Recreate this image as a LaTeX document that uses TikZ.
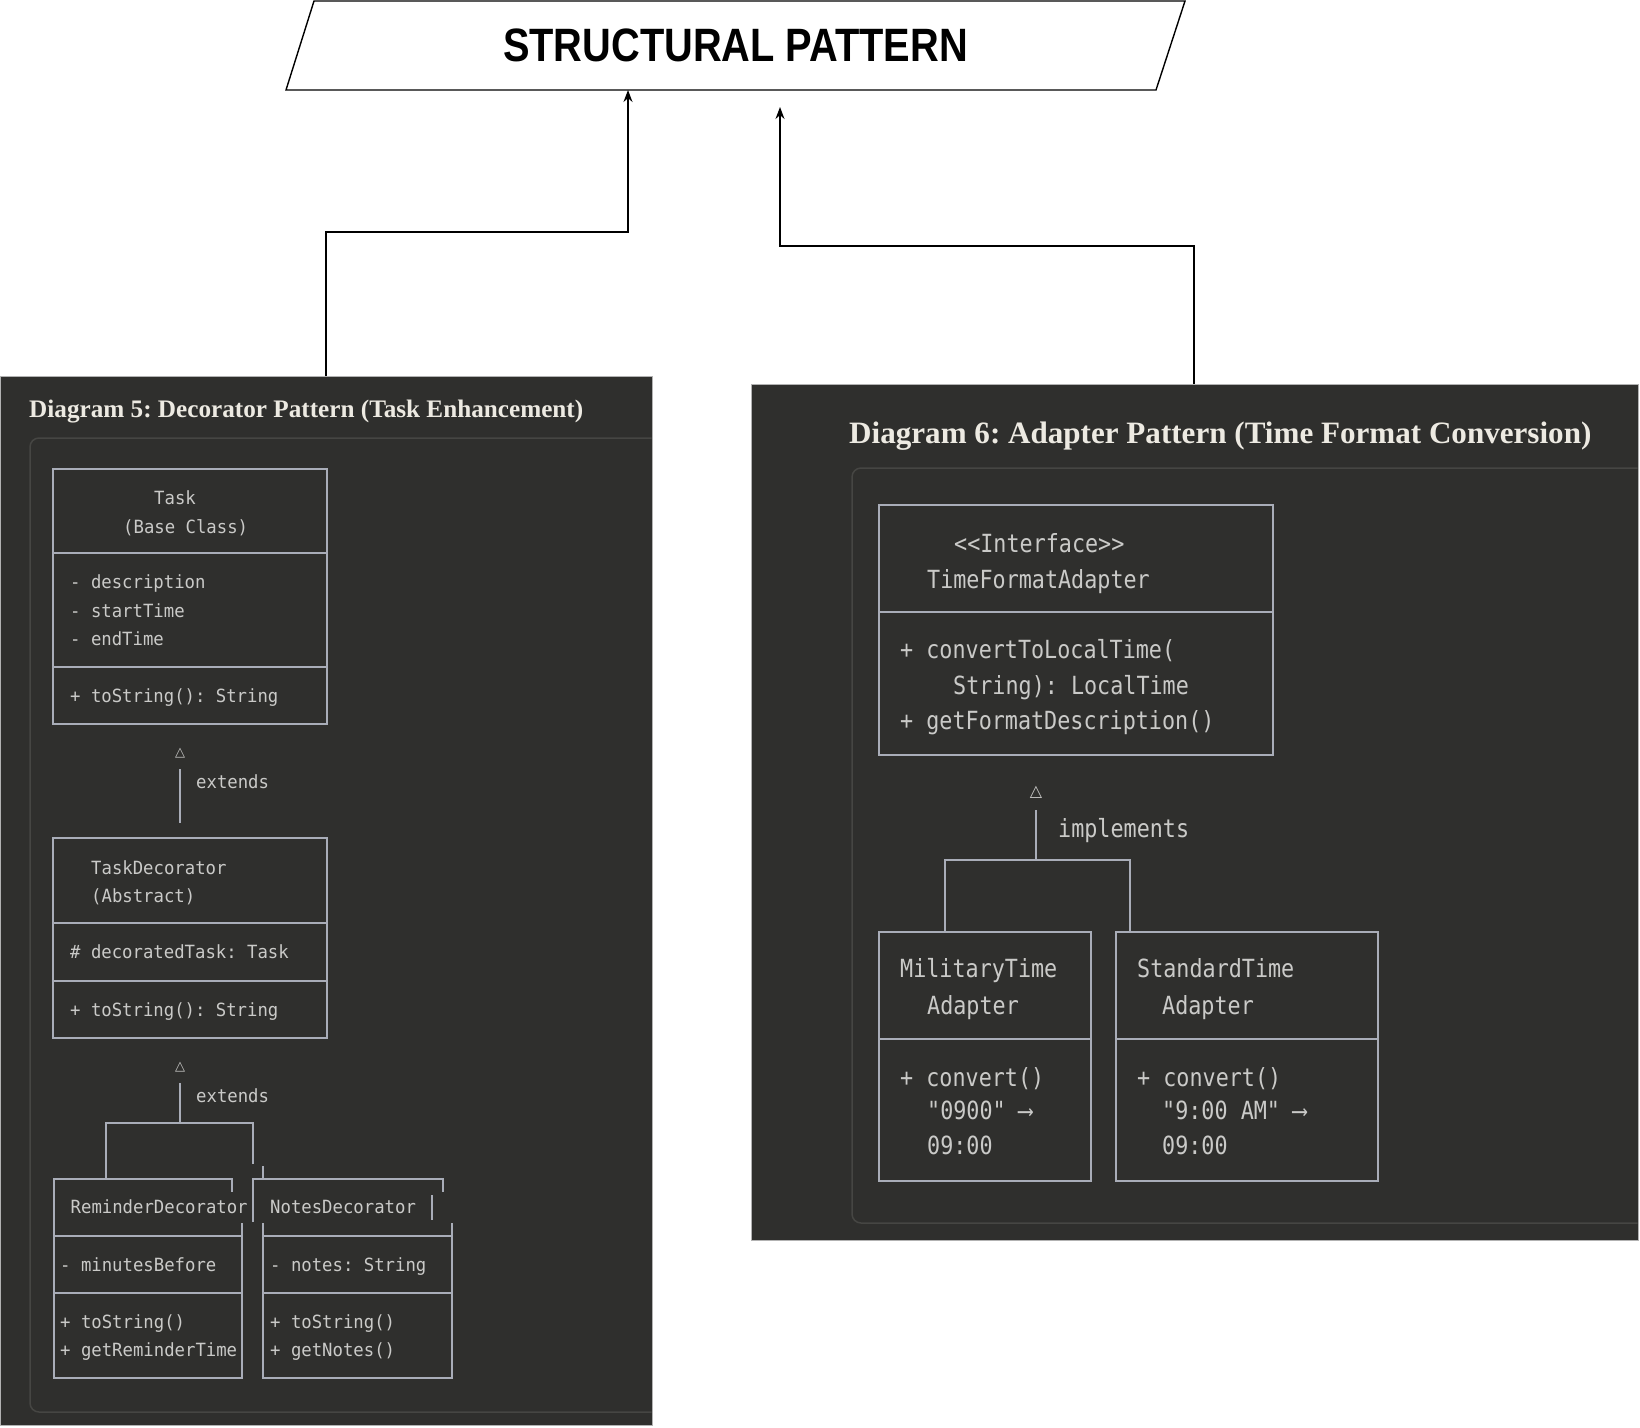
\documentclass[tikz,border=0pt]{standalone}
\usepackage{fontspec}
\usetikzlibrary{arrows.meta}
\newfontfamily\monoA[FakeStretch=0.95,Ligatures=TeXOff]{DejaVu Sans Mono}
\newfontfamily\monoB[FakeStretch=0.87,Ligatures=TeXOff]{DejaVu Sans Mono}
\newfontfamily\titlefont{Liberation Serif}
\newfontfamily\headfont[FakeStretch=0.85]{Liberation Sans}
\newfontfamily\symfont{DejaVu Sans}
\definecolor{panelbg}{HTML}{2F2F2D}
\definecolor{framecol}{HTML}{464643}
\definecolor{boxline}{HTML}{A9ADB8}
\definecolor{monotxt}{HTML}{CACAC8}
\definecolor{titletxt}{HTML}{EDEAE2}
\tikzset{
  panel/.style={draw=gray!60, line width=0.8pt, fill=panelbg, inner sep=0pt, anchor=north west},
  frame/.style={draw=framecol, line width=1.5pt, rounded corners=9pt},
  boxl/.style={draw=boxline, line width=2.2pt},
  mL/.style={font=\monoA\fontsize{18.2}{22}\selectfont, text=monotxt, inner sep=0pt, anchor=base west},
  mR/.style={font=\monoB\fontsize{25}{30}\selectfont, text=monotxt, inner sep=0pt, anchor=base west},
  triL/.style={font=\symfont\fontsize{13}{15}\selectfont, text=monotxt, inner sep=0pt},
  triR/.style={font=\symfont\fontsize{16}{18}\selectfont, text=monotxt, inner sep=0pt},
  conn/.style={draw=black, line width=1.3pt, -{Stealth[length=12pt,width=9pt]}},
}
\begin{document}
\frenchspacing
\begin{tikzpicture}[x=1pt,y=-1pt]
\path[use as bounding box, fill=white] (0,0) rectangle (1640,1427);

% ---------- header parallelogram ----------
\draw[black, line width=1.4pt] (314,1) -- (1185,1) -- (1156,90) -- (286,90) -- cycle;
\node[font=\headfont\bfseries\fontsize{46.8}{52}\selectfont, inner sep=0pt, anchor=base] (sp) at (735.5,61) {STRUCTURAL PATTERN};
\coordinate (spL) at (628,90);
\coordinate (spR) at (780,107);

% ---------- panels ----------
\node[panel, minimum width=652pt, minimum height=1049pt] (lpanel) at (0,376) {};
\node[panel, minimum width=887pt, minimum height=856pt] (rpanel) at (751,384) {};
\coordinate (lsrc) at (326,376);
\coordinate (rsrc) at (1194,384);

\draw[conn] (lsrc) -- ++(0,-144) -| (spL);
\draw[conn] (rsrc) -- ++(0,-138) -| (spR);

% ================= LEFT PANEL =================
\begin{scope}
\clip (0.5,376.5) rectangle (651.5,1424.5);
\draw[frame] (30,438) rectangle (720,1412);
\end{scope}
\node[font=\titlefont\bfseries\fontsize{25.2}{30}\selectfont, text=titletxt, inner sep=0pt, anchor=base west] (t5) at (29,417) {Diagram 5: Decorator Pattern (Task Enhancement)};

% Task box
\draw[boxl] (53,469) rectangle (327,724);
\draw[boxl] (53,553) -- (327,553);
\draw[boxl] (53,667) -- (327,667);
\node[mL] (task1) at (154,504.5) {Task};
\node[mL] (task2) at (123,533.5) {(Base Class)};
\node[mL] (task3) at (70,588.5) {- description};
\node[mL] (task4) at (70,617.5) {- startTime};
\node[mL] (task5) at (70,645.5) {- endTime};
\node[mL] (task6) at (70,702.5) {+ toString(): String};

\node[triL] (tri1) at (180,753) {△};
\draw[boxl] (180,769) -- (180,823);
\node[mL] (ext1) at (196,788.5) {extends};

% TaskDecorator box
\draw[boxl] (53,838) rectangle (327,1038);
\draw[boxl] (53,923) -- (327,923);
\draw[boxl] (53,981) -- (327,981);
\node[mL] (td1) at (91,874.5) {TaskDecorator};
\node[mL] (td2) at (91,902.5) {(Abstract)};
\node[mL] (td3) at (70,958.5) {\# decoratedTask: Task};
\node[mL] (td4) at (70,1016.5) {+ toString(): String};

\node[triL] (tri2) at (180,1067) {△};
\draw[boxl] (180,1083) -- (180,1123);
\node[mL] (ext2) at (196,1102.5) {extends};

% branching
\draw[boxl] (106,1179) -- (106,1123) -- (253,1123) -- (253,1164);
\draw[boxl] (263,1166) -- (263,1179);

% Reminder box (ASCII-ish)
\draw[boxl] (232,1192) -- (232,1179) -- (54,1179) -- (54,1378) -- (242,1378) -- (242,1223);
\draw[boxl] (54,1236) -- (242,1236);
\draw[boxl] (54,1293) -- (242,1293);
% Notes box
\draw[boxl] (253,1222) -- (253,1179) -- (443,1179) -- (443,1192);
\draw[boxl] (432,1195) -- (432,1220);
\draw[boxl] (263,1223) -- (263,1378) -- (452,1378) -- (452,1223);
\draw[boxl] (263,1236) -- (452,1236);
\draw[boxl] (263,1293) -- (452,1293);

\node[mL] (rd1) at (70.5,1213.5) {ReminderDecorator};
\node[mL] (rd2) at (60,1271.5) {- minutesBefore};
\node[mL] (rd3) at (60,1328.5) {+ toString()};
\node[mL] (rd4) at (60,1356.5) {+ getReminderTime};
\node[mL] (nd1) at (270,1213.5) {NotesDecorator};
\node[mL] (nd2) at (270,1271.5) {- notes: String};
\node[mL] (nd3) at (270,1328.5) {+ toString()};
\node[mL] (nd4) at (270,1356.5) {+ getNotes()};

% ================= RIGHT PANEL =================
\begin{scope}
\clip (751.5,384.5) rectangle (1637.5,1239.5);
\draw[frame] (852,468) rectangle (1700,1223);
\end{scope}
\node[font=\titlefont\bfseries\fontsize{31.1}{36}\selectfont, text=titletxt, inner sep=0pt, anchor=base west] (t6) at (849,443) {Diagram 6: Adapter Pattern (Time Format Conversion)};

% Interface box
\draw[boxl] (879,505) rectangle (1273,755);
\draw[boxl] (879,612) -- (1273,612);
\node[mR] (if1) at (954,552) {<<Interface>>};
\node[mR] (if2) at (927,588) {TimeFormatAdapter};
\node[mR] (if3) at (900,658) {+ convertToLocalTime(};
\node[mR] (if4) at (953,694) {String): LocalTime};
\node[mR] (if5) at (900,729) {+ getFormatDescription()};

\node[triR] (tri3) at (1036,792) {△};
\draw[boxl] (1036,810) -- (1036,860);
\node[mR] (impl) at (1058,837) {implements};
\draw[boxl] (945,932) -- (945,860) -- (1130,860) -- (1130,932);

% Military box
\draw[boxl] (879,932) rectangle (1091,1181);
\draw[boxl] (879,1039) -- (1091,1039);
\node[mR] (mt1) at (900,977) {MilitaryTime};
\node[mR] (mt2) at (927,1014) {Adapter};
\node[mR] (mt3) at (900,1086) {+ convert()};
\node[mR] (mt4) at (927,1119) {"0900" ⟶};
\node[mR] (mt5) at (927,1154) {09:00};

% Standard box
\draw[boxl] (1116,932) rectangle (1378,1181);
\draw[boxl] (1116,1039) -- (1378,1039);
\node[mR] (st1) at (1137,977) {StandardTime};
\node[mR] (st2) at (1162,1014) {Adapter};
\node[mR] (st3) at (1137,1086) {+ convert()};
\node[mR] (st4) at (1162,1119) {"9:00 AM" ⟶};
\node[mR] (st5) at (1162,1154) {09:00};
\end{tikzpicture}
\end{document}
